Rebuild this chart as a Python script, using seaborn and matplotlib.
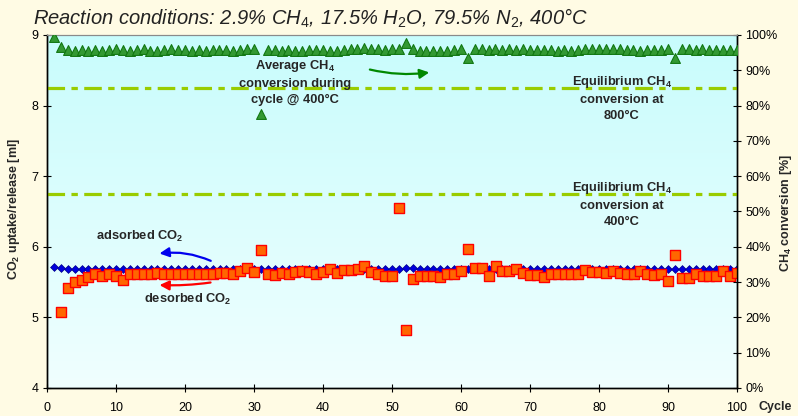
import matplotlib
matplotlib.use("Agg")
import matplotlib.pyplot as plt
import seaborn as sns
import numpy as np
from matplotlib.colors import LinearSegmentedColormap

# --- data ---
cycles = np.arange(1, 101)
cycles_desorbed = np.arange(2, 101)

ch4_conversion = [
    99.3, 96.5,
    95.8, 95.6, 95.8, 95.6, 95.8, 95.5, 95.8, 96.0, 95.8, 95.6, 95.8, 95.9, 95.6, 95.5,
    95.8, 96.0, 95.8, 95.7, 95.6, 95.8, 95.6, 95.8, 95.7, 95.8, 95.6, 95.7, 95.9, 96.0,
    77.6,
    95.8, 95.7, 95.6, 95.8, 95.6, 95.5, 95.7, 95.8, 95.7, 95.5, 95.6, 95.8, 96.0, 96.1,
    96.3, 96.0, 95.9, 95.8, 96.0, 95.9,
    97.6,
    96.0, 95.6, 95.5, 95.4, 95.5, 95.6, 95.8, 95.9,
    93.4,
    96.0, 95.9, 95.8, 95.9, 95.8, 96.1, 95.8, 95.9, 95.8, 95.7, 95.8, 95.8, 95.6, 95.7,
    95.6, 95.8, 96.0, 95.9, 96.0, 95.9, 96.1, 95.9, 95.8, 95.7, 95.6, 95.7, 95.8, 95.7, 95.9,
    93.4,
    96.0, 95.9, 95.8, 95.9, 95.7, 95.8, 95.7, 95.8, 95.8,
]

adsorbed_co2 = [
    5.72, 5.70, 5.69, 5.69, 5.68, 5.69, 5.69, 5.68, 5.69, 5.69,
    5.68, 5.69, 5.69, 5.69, 5.68, 5.69, 5.69, 5.69, 5.68, 5.69,
    5.69, 5.68, 5.69, 5.69, 5.69, 5.68, 5.69, 5.69, 5.69, 5.68,
    5.69, 5.69, 5.68, 5.69, 5.69, 5.69, 5.68, 5.69, 5.69, 5.68,
    5.69, 5.69, 5.69, 5.68, 5.69, 5.69, 5.69, 5.68, 5.69, 5.69,
    5.69, 5.70, 5.70, 5.69, 5.69, 5.68, 5.69, 5.69, 5.69, 5.68,
    5.69, 5.69, 5.68, 5.69, 5.69, 5.69, 5.68, 5.69, 5.69, 5.69,
    5.68, 5.69, 5.69, 5.69, 5.68, 5.69, 5.69, 5.69, 5.68, 5.69,
    5.69, 5.69, 5.68, 5.69, 5.69, 5.69, 5.68, 5.69, 5.68, 5.68,
    5.68, 5.69, 5.69, 5.68, 5.69, 5.69, 5.69, 5.68, 5.69, 5.69,
]

desorbed_co2 = [
    5.08, 5.42, 5.50, 5.53, 5.57, 5.62, 5.59, 5.62, 5.59, 5.53,
    5.61, 5.61, 5.62, 5.61, 5.63, 5.61, 5.62, 5.62, 5.62, 5.61,
    5.62, 5.62, 5.62, 5.63, 5.63, 5.61, 5.66, 5.70, 5.65, 5.95,
    5.62, 5.60, 5.63, 5.61, 5.64, 5.66, 5.65, 5.62, 5.64, 5.68,
    5.63, 5.67, 5.67, 5.68, 5.73, 5.65, 5.62, 5.59, 5.59, 6.55,
    4.82, 5.54, 5.59, 5.59, 5.59, 5.57, 5.61, 5.61, 5.66, 5.97,
    5.70, 5.70, 5.59, 5.73, 5.66, 5.66, 5.69, 5.63, 5.60, 5.60,
    5.57, 5.61, 5.61, 5.61, 5.62, 5.62, 5.67, 5.65, 5.65, 5.63,
    5.66, 5.63, 5.61, 5.61, 5.66, 5.61, 5.60, 5.62, 5.52, 5.88,
    5.56, 5.56, 5.61, 5.59, 5.59, 5.59, 5.66, 5.59, 5.63,
]

equilibrium_levels = [85, 55]  # % CH4 conversion at 800°C and 400°C

sns.set_style("white")
plt.rcParams["font.family"] = ["Liberation Sans", "DejaVu Sans"]
plt.rcParams["mathtext.fontset"] = "custom"
plt.rcParams["mathtext.rm"] = "Liberation Sans"
plt.rcParams["mathtext.it"] = "Liberation Sans:italic"
plt.rcParams["mathtext.bf"] = "Liberation Sans:bold"

fig = plt.figure(figsize=(7.98, 4.16), dpi=100, facecolor="#fffbe4")
ax1 = fig.add_axes([47 / 798, 28 / 416, 690 / 798, 353 / 416])
ax2 = ax1.twinx()

# gradient plot background
cmap = LinearSegmentedColormap.from_list("bg", ["#f0ffff", "#c8fcfc"])
grad = np.linspace(0, 1, 256).reshape(-1, 1)
ax1.imshow(grad, extent=[0, 1, 0, 1], transform=ax1.transAxes, aspect="auto",
           cmap=cmap, origin="lower", zorder=0)

sns.scatterplot(x=cycles, y=adsorbed_co2, marker="D", s=16, color="#0000dd",
                edgecolor="#000088", linewidth=0.5, ax=ax1, zorder=3)
sns.scatterplot(x=cycles_desorbed, y=desorbed_co2, marker="s", s=42, color="#ff6600",
                edgecolor="#ff0000", linewidth=1.0, ax=ax1, zorder=4)

for lev in equilibrium_levels:
    ax2.axhline(lev, color="#99cc00", lw=2.3, dashes=(5.5, 2, 2, 2), zorder=2)

sns.scatterplot(x=cycles, y=ch4_conversion, marker="^", s=50, color="#339933",
                edgecolor="#117711", linewidth=0.8, ax=ax2, zorder=5)

ax1.set_xlim(0, 100)
ax1.set_ylim(4, 9)
ax2.set_ylim(0, 100)
ax1.set_xticks(range(0, 101, 10))
ax1.set_yticks(range(4, 10))
ax2.set_yticks(range(0, 101, 10))
ax2.set_yticklabels([f"{v}%" for v in range(0, 101, 10)])
ax2.patch.set_visible(False)
ax1.set_ylabel("")
ax2.set_ylabel("")

for ax in (ax1, ax2):
    for side in ("left", "bottom", "right"):
        ax.spines[side].set_color("black")
        ax.spines[side].set_linewidth(1.0)
    ax.spines["top"].set_color("#8a8a8a")
    ax.spines["top"].set_linewidth(0.8)
ax1.tick_params(axis="both", direction="inout", length=6, width=0.8, labelsize=9,
                bottom=True, left=True, colors="black", pad=3)
ax1.tick_params(axis="x", pad=7)
ax2.tick_params(axis="y", direction="inout", length=6, width=0.8, labelsize=9,
                right=True, colors="black", pad=3)

fig.text(14 / 798, 1 - 209 / 416, r"CO$_\mathbf{2}$ uptake/release [ml]", rotation=90,
         ha="center", va="center", fontsize=9, fontweight="bold")
fig.text(786 / 798, 1 - 213 / 416, r"CH$_\mathbf{4}$ conversion [%]", rotation=90,
         ha="center", va="center", fontsize=9, fontweight="bold")
fig.text(775 / 798, 1 - 407 / 416, "Cycle", ha="center", va="center",
         fontsize=9, fontweight="bold")

fig.text(33 / 798, 1 - 18 / 416,
         r"Reaction conditions: 2.9% CH$_\mathit{4}$, 17.5% H$_\mathit{2}$O, 79.5% N$_\mathit{2}$, 400°C",
         ha="left", va="center", fontsize=14.5, style="italic", color="#222222")

note = dict(ha="center", va="center", fontsize=9.3, fontweight="bold", linespacing=1.45)
ax2.text(35.9, 86.7, "Average CH$_\\mathbf{4}$\nconversion during\ncycle @ 400°C", zorder=6, **note)
ax2.text(83.3, 82.2, "Equilibrium CH$_\\mathbf{4}$\nconversion at\n800°C", zorder=6, **note)
ax2.text(83.3, 52.1, "Equilibrium CH$_\\mathbf{4}$\nconversion at\n400°C", zorder=6, **note)
ax1.text(13.5, 6.15, "adsorbed CO$_\\mathbf{2}$", zorder=6, **note)
ax1.text(20.4, 5.25, "desorbed CO$_\\mathbf{2}$", zorder=6, **note)

ax2.annotate("", xy=(55.8, 89.5), xytext=(46.4, 90.4), zorder=6,
             arrowprops=dict(arrowstyle="-|>", color="#008800", lw=1.6,
                             mutation_scale=14, connectionstyle="arc3,rad=0.1"))
ax1.annotate("", xy=(15.9, 5.90), xytext=(24.1, 5.785), zorder=6,
             arrowprops=dict(arrowstyle="-|>", color="#0000ee", lw=1.6,
                             mutation_scale=14, connectionstyle="arc3,rad=0.15"))
ax1.annotate("", xy=(15.9, 5.46), xytext=(24.1, 5.50), zorder=6,
             arrowprops=dict(arrowstyle="-|>", color="#ff0000", lw=1.6,
                             mutation_scale=14, connectionstyle="arc3,rad=-0.05"))

fig.savefig("out.png", dpi=100, facecolor=fig.get_facecolor())
